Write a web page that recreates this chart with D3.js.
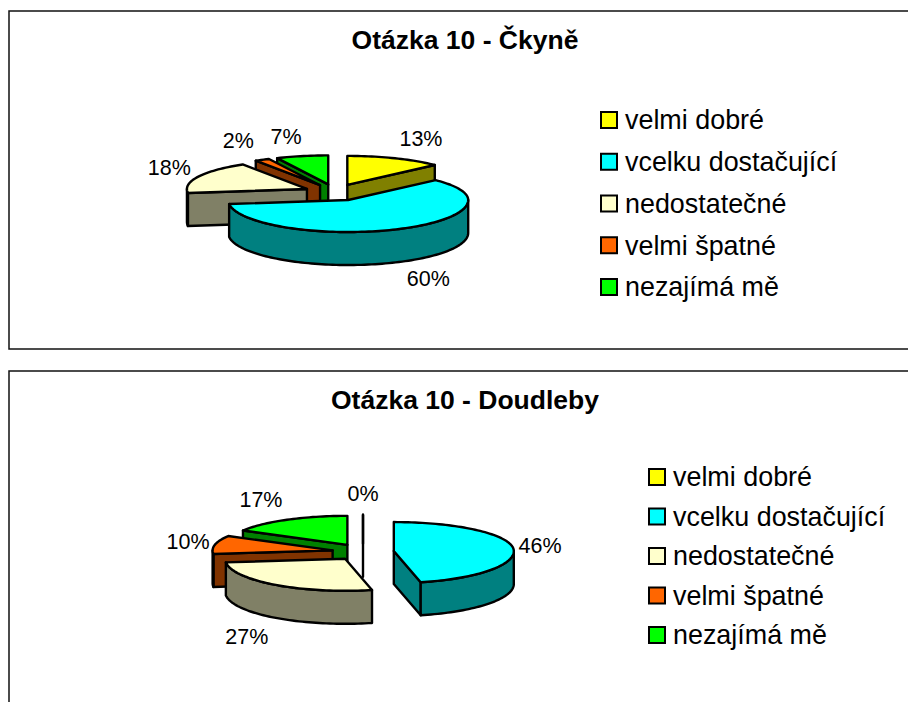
<!DOCTYPE html>
<html><head><meta charset="utf-8">
<script src="https://cdnjs.cloudflare.com/ajax/libs/d3/7.8.5/d3.min.js"></script>
<style>html,body{margin:0;padding:0;background:#fff}svg{display:block}text{font-family:"Liberation Sans",Arial,sans-serif;fill:#000}</style>
</head><body><svg id="c" width="908" height="702"></svg>
<script>
const categories = ["velmi dobré","vcelku dostačující","nedostatečné","velmi špatné","nezajímá mě"];
const topColors  = ["#FFFF00","#00FFFF","#FFFFCC","#FF6600","#00FF00"];
const wallColors = ["#808000","#008080","#808066","#803300","#008000"];
const ckyneValues = [13,60,18,2,7];
const doudlebyValues = [0,46.4,26.8,10,16.8];
const titles = ["Otázka 10 - Čkyně","Otázka 10 - Doudleby"];

const layouts = [
 {values:ckyneValues,title:titles[0],box:[9,11,912,349],titleX:465,titleY:40,cx:335,cy:192.5,
  legendX:600,legendY:[120,287],
  nudge:[[26,-20],[29,50],[-29,-9],[-24,-19],[-16,-20]]},
 {values:doudlebyValues,title:titles[1],box:[9,371,912,720],titleX:465,titleY:400,cx:363,cy:552,
  legendX:648,legendY:[477,635],
  nudge:[[0,-21],[27,-2],[-29,52],[-27,-3.5],[-26,-20]]}
];
const rx=120, ryBack=29, ryFront=32, depth=33, explodeX=31, explodeY=8.3;

const svg=d3.select("#c");
const color=d3.scaleOrdinal(categories,topColors);
const wall=d3.scaleOrdinal(categories,wallColors);
const pie=d3.pie().value(d=>d.v).sort(null);
const line=d3.line();

layouts.forEach(L=>{
  const g=svg.append("g");
  const [x0,y0,x1,y1]=L.box;
  g.append("rect").attr("x",x0).attr("y",y0).attr("width",x1-x0).attr("height",y1-y0)
    .attr("fill","#fff").attr("stroke","#111").attr("stroke-width",1.5);
  g.append("text").attr("x",L.titleX).attr("y",L.titleY).attr("dy","0.35em").attr("text-anchor","middle")
    .attr("font-weight","bold").attr("font-size",26.5).text(L.title);

  const arcs=pie(categories.map((c,i)=>({c,v:L.values[i],i})));
  const ex=d=>{const m=(d.startAngle+d.endAngle)/2;return {m,cx:L.cx+explodeX*Math.sin(m),cy:L.cy-explodeY*Math.cos(m)};};
  const P=(o,a,dz=0)=>{const c=Math.cos(a);return [o.cx+rx*Math.sin(a),o.cy-(c>0?ryBack:ryFront)*c+dz];};
  const arcPts=(o,a,b,dz=0)=>{const n=Math.max(1,Math.ceil(Math.abs(b-a)/0.03));return d3.range(n+1).map(i=>P(o,a+(b-a)*i/n,dz));};
  const order=arcs.slice().sort((p,q)=>ex(p).cy-ex(q).cy);
  const eps=1e-6;
  order.forEach(d=>{
    const o=ex(d), a=d.startAngle, b=d.endAngle, i=d.data.i;
    const s=g.append("g").attr("stroke","#000").attr("stroke-width",2.4).attr("stroke-linejoin","round");
    const wallPoly=pts=>s.append("path").attr("d",line(pts)+"Z").attr("fill",wall(d.data.c));
    const radial=t=>wallPoly([[o.cx,o.cy],P(o,t),P(o,t,depth),[o.cx,o.cy+depth]]);
    if(Math.sin(b)>eps||a===b) radial(b);
    if(Math.sin(a)<-eps) radial(a);
    const lo=Math.max(a,Math.PI/2), hi=Math.min(b,3*Math.PI/2);
    if(hi>lo) wallPoly(arcPts(o,lo,hi).concat(arcPts(o,hi,lo,depth)));
    s.append("path").attr("d",line([[o.cx,o.cy]].concat(arcPts(o,a,b)))+"Z").attr("fill",color(d.data.c));
    const pt=P(o,o.m), nd=L.nudge[i];
    g.append("text").datum(d).attr("class","lbl").attr("x",pt[0]+nd[0]).attr("y",pt[1]+nd[1]).attr("dy","0.35em")
      .attr("text-anchor","middle").attr("font-size",21.5).text(d3.format(".0f")(L.values[i])+"%");
  });
  g.selectAll("text.lbl").raise();

  const ly=d3.scalePoint(categories,L.legendY);
  const lg=g.selectAll("g.leg").data(categories).join("g").attr("class","leg")
    .attr("transform",c=>`translate(${L.legendX},${ly(c)})`);
  lg.append("rect").attr("x",1).attr("y",-8).attr("width",16).attr("height",16)
    .attr("fill",c=>color(c)).attr("stroke","#000").attr("stroke-width",2);
  lg.append("text").attr("x",25).attr("dy","0.35em").attr("font-size",26.9).text(c=>c);
});
</script></body></html>
